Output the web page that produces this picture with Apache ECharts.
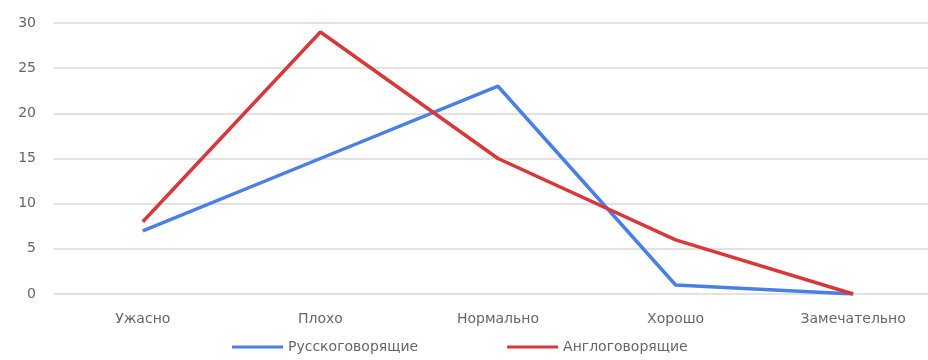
<!DOCTYPE html>
<html>
<head>
<meta charset="utf-8">
<script src="https://cdn.jsdelivr.net/npm/echarts@6/dist/echarts.min.js"></script>
<style>
  html, body { margin: 0; padding: 0; background: #fff; }
  #chart { width: 928px; height: 360px; }
</style>
</head>
<body>
<div id="chart"></div>
<script>
// Rating categories along the x axis
const categories = ['Ужасно', 'Плохо', 'Нормально', 'Хорошо', 'Замечательно'];
// Answer counts per group
const russianSpeakers = [7, 15, 23, 1, 0];
const englishSpeakers = [8, 29, 15, 6, 0];
const seriesNames = ['Русскоговорящие', 'Англоговорящие'];
const yTicks = { min: 0, max: 30, interval: 5 };

const chart = echarts.init(document.getElementById('chart'), null, { renderer: 'canvas' });

const textStyle = { color: '#666', fontFamily: 'DejaVu Sans, Arial, sans-serif', fontSize: 14 };

chart.setOption({
  animation: false,
  // plot area runs slightly past the right edge of the canvas
  grid: { left: 54, top: 23, width: 888, height: 271, outerBoundsMode: 'none', containLabel: false },
  legend: {
    top: 335,
    left: 227,
    itemWidth: 51,
    itemHeight: 3,
    itemGap: 89,
    icon: 'rect',
    textStyle: textStyle,
    data: seriesNames
  },
  xAxis: {
    type: 'category',
    data: categories,
    boundaryGap: true,
    axisLine: { show: false },
    axisTick: { show: false },
    axisLabel: Object.assign({ margin: 18, interval: 0 }, textStyle)
  },
  yAxis: {
    type: 'value',
    min: yTicks.min,
    max: yTicks.max,
    interval: yTicks.interval,
    axisLine: { show: false },
    axisTick: { show: false },
    axisLabel: Object.assign({ margin: 18 }, textStyle),
    splitLine: { lineStyle: { color: '#e2e2e2', width: 2 } }
  },
  series: [
    {
      name: seriesNames[0],
      type: 'line',
      data: russianSpeakers,
      showSymbol: false,
      symbol: 'none',
      lineStyle: { color: '#4a7fe6', width: 3.5 },
      itemStyle: { color: '#4a7fe6' }
    },
    {
      name: seriesNames[1],
      type: 'line',
      data: englishSpeakers,
      showSymbol: false,
      symbol: 'none',
      lineStyle: { color: '#d9383a', width: 3.5 },
      itemStyle: { color: '#d9383a' }
    }
  ]
});
</script>
</body>
</html>
